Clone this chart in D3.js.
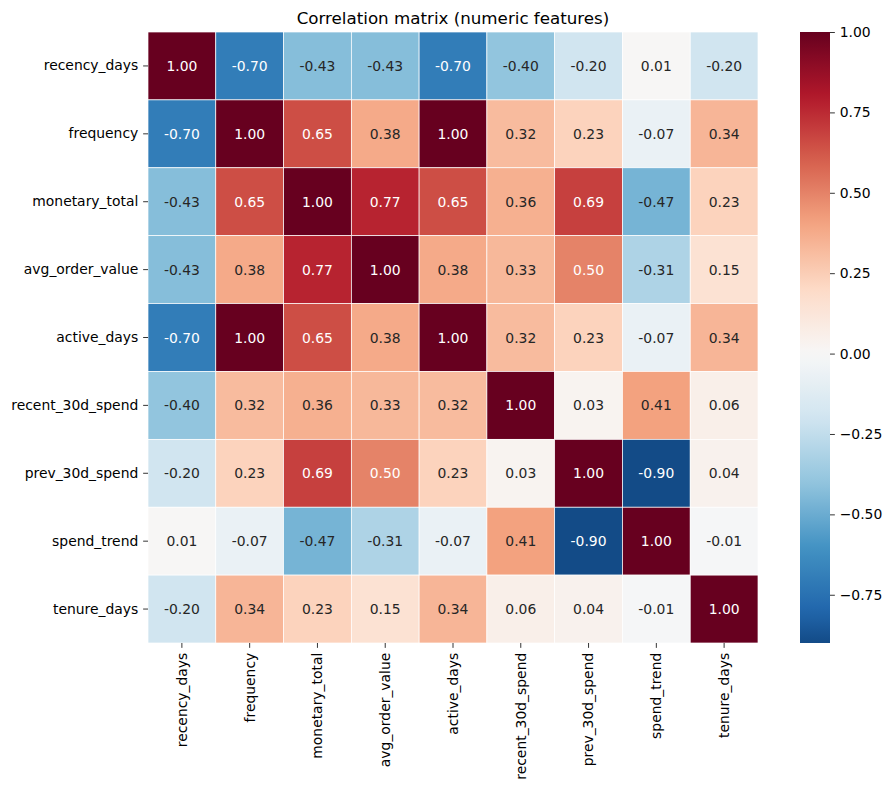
<!DOCTYPE html>
<html><head><meta charset="utf-8">
<script src="https://cdn.jsdelivr.net/npm/d3@7"></script>
<style>body{margin:0;background:#fff}svg text{font-family:"DejaVu Sans",sans-serif}</style>
</head><body><svg id="c" width="892" height="790"></svg>
<script>
const features = ["recency_days","frequency","monetary_total","avg_order_value","active_days","recent_30d_spend","prev_30d_spend","spend_trend","tenure_days"];
const corr = [
 [1.00,-0.70,-0.43,-0.43,-0.70,-0.40,-0.20,0.01,-0.20],
 [-0.70,1.00,0.65,0.38,1.00,0.32,0.23,-0.07,0.34],
 [-0.43,0.65,1.00,0.77,0.65,0.36,0.69,-0.47,0.23],
 [-0.43,0.38,0.77,1.00,0.38,0.33,0.50,-0.31,0.15],
 [-0.70,1.00,0.65,0.38,1.00,0.32,0.23,-0.07,0.34],
 [-0.40,0.32,0.36,0.33,0.32,1.00,0.03,0.41,0.06],
 [-0.20,0.23,0.69,0.50,0.23,0.03,1.00,-0.90,0.04],
 [0.01,-0.07,-0.47,-0.31,-0.07,0.41,-0.90,1.00,-0.01],
 [-0.20,0.34,0.23,0.15,0.34,0.06,0.04,-0.01,1.00]
];
const cbTicks = [1.00,0.75,0.50,0.25,0.00,-0.25,-0.50,-0.75];
const rdbuR = ["#053061","#2166ac","#4393c3","#92c5de","#d1e5f0","#f7f7f7","#fddbc7","#f4a582","#d6604d","#b2182b","#67001f"];
const title = "Correlation matrix (numeric features)";

const svg = d3.select("#c");
const L=148, T=32, W=610, H=611;
const TK=4.86, PAD=4.86;
const x = d3.scaleBand().domain(features).range([L,L+W]);
const y = d3.scaleBand().domain(features).range([T,T+H]);
const color = d3.scaleLinear().domain(d3.range(11).map(i=>-1+i*0.2)).range(rdbuR).interpolate(d3.interpolateRgb).clamp(true);

function lum(c){
  const r=d3.rgb(c);
  const f=v=>{v/=255;return v<=0.03928?v/12.92:Math.pow((v+0.055)/1.055,2.4);};
  return 0.2126*f(r.r)+0.7152*f(r.g)+0.0722*f(r.b);
}

const cells=[];
corr.forEach((row,i)=>row.forEach((v,j)=>cells.push({r:features[i],c:features[j],v})));

svg.append("g").selectAll("rect").data(cells).join("rect")
 .attr("x",d=>x(d.c)).attr("y",d=>y(d.r)).attr("width",x.bandwidth()).attr("height",y.bandwidth())
 .attr("fill",d=>color(d.v)).attr("stroke","#fff").attr("stroke-width",0.7);

svg.append("g").selectAll("text").data(cells).join("text")
 .attr("x",d=>x(d.c)+x.bandwidth()/2).attr("y",d=>y(d.r)+y.bandwidth()/2)
 .attr("text-anchor","middle").attr("dominant-baseline","central")
 .attr("font-size","13.9px")
 .attr("fill",d=>lum(color(d.v))>0.408?"#262626":"#ffffff")
 .text(d=>d.v.toFixed(2));

// axes
const ax = svg.append("g").attr("transform",`translate(0,${T+H})`)
 .call(d3.axisBottom(x).tickSize(TK).tickPadding(PAD));
ax.select(".domain").remove();
ax.selectAll(".tick line").attr("stroke","#000").attr("stroke-width",0.8);
ax.selectAll(".tick text").attr("font-size","13.9px").attr("fill","#000")
 .attr("transform","rotate(-90)").attr("text-anchor","end").attr("dy","0.35em").attr("x",-(TK+PAD)).attr("y",0);

const ay = svg.append("g").attr("transform",`translate(${L},0)`)
 .call(d3.axisLeft(y).tickSize(TK).tickPadding(PAD));
ay.select(".domain").remove();
ay.selectAll(".tick line").attr("stroke","#000").attr("stroke-width",0.8);
ay.selectAll(".tick text").attr("font-size","13.9px").attr("fill","#000");

// title
svg.append("text").attr("x",L+W/2).attr("y",24).attr("text-anchor","middle")
 .attr("font-size","16.7px").attr("fill","#000").text(title);

// colorbar
const vmin = d3.min(corr.flat()), vmax = d3.max(corr.flat());
const cbX=800, cbW=30;
const cy = d3.scaleLinear().domain([vmin,vmax]).range([T+H,T]);
const defs=svg.append("defs");
const grad=defs.append("linearGradient").attr("id","cbg").attr("x1",0).attr("y1",1).attr("x2",0).attr("y2",0);
d3.range(0,1.0001,0.02).forEach(t=>{
  grad.append("stop").attr("offset",t).attr("stop-color",color(vmin+t*(vmax-vmin)));
});
svg.append("rect").attr("x",cbX).attr("y",T).attr("width",cbW).attr("height",H).attr("fill","url(#cbg)");
const ac = svg.append("g").attr("transform",`translate(${cbX+cbW},0)`)
 .call(d3.axisRight(cy).tickValues(cbTicks).tickSize(TK).tickPadding(PAD).tickFormat(v=>d3.format(".2f")(v).replace("-","\u2212")));
ac.select(".domain").remove();
ac.selectAll(".tick line").attr("stroke","#000").attr("stroke-width",0.8);
ac.selectAll(".tick text").attr("font-size","13.9px").attr("fill","#000");
</script></body></html>
